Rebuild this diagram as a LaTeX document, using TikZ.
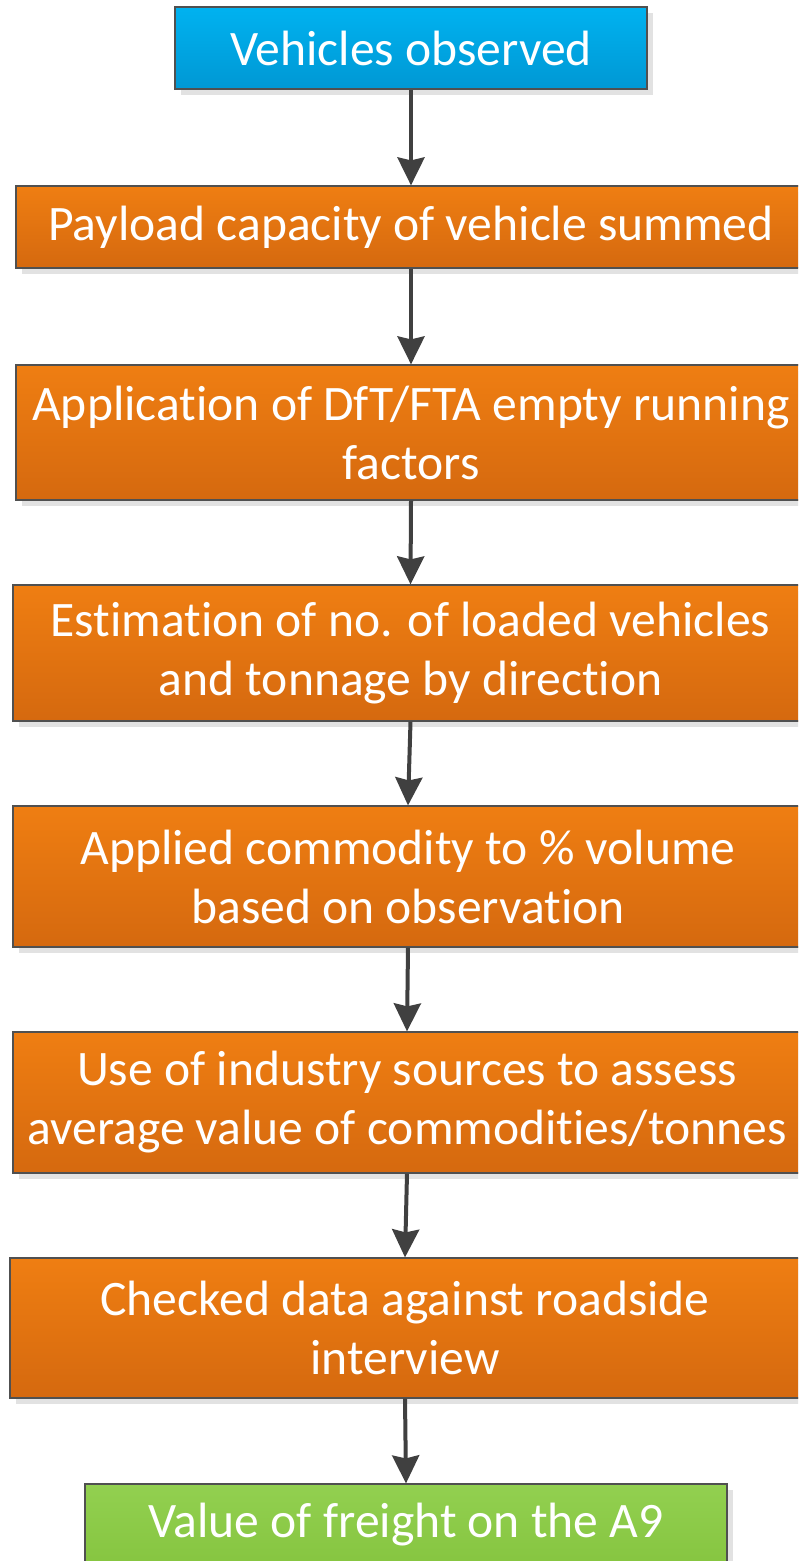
\documentclass[tikz,border=0pt]{standalone}
\usepackage{fontspec}
\setmainfont[RawFeature={-liga}]{Carlito}
\usetikzlibrary{arrows.meta,shadows}

\definecolor{blueTop}{RGB}{0,178,240}
\definecolor{blueBottom}{RGB}{0,152,212}
\definecolor{orangeTop}{RGB}{239,126,18}
\definecolor{orangeBottom}{RGB}{213,105,15}
\definecolor{greenTop}{RGB}{146,208,80}
\definecolor{greenBottom}{RGB}{134,197,64}
\definecolor{boxEdge}{RGB}{80,80,80}
\definecolor{shadowGray}{RGB}{226,226,226}
\definecolor{arrowGray}{RGB}{64,64,64}

\tikzset{
  stage/.style={draw=boxEdge, line width=0.6pt, inner sep=0pt, align=center,
    text=white, font=\fontsize{24.8pt}{29.5pt}\selectfont,
    drop shadow={shadow xshift=3pt, shadow yshift=-3pt, fill=shadowGray, opacity=1}},
  blueStage/.style={stage, top color=blueTop, bottom color=blueBottom},
  orangeStage/.style={stage, top color=orangeTop, bottom color=orangeBottom},
  greenStage/.style={stage, top color=greenTop, bottom color=greenBottom},
  flow/.style={draw=arrowGray, line width=2pt,
    -{Stealth[length=14pt, width=13.5pt, inset=1.5pt]}}
}

\begin{document}
\begin{tikzpicture}[x=0.5pt, y=-0.5pt]
  \path[use as bounding box] (0,0) rectangle (798,1561);
  \clip (0,0) rectangle (798,1561);

  \node[blueStage, minimum width=236pt, minimum height=41pt] (s1) at (411,48)
    {Vehicles observed};
  \node[orangeStage, minimum width=395pt, minimum height=41pt] (s2) at (411,227)
    {Payload capacity of vehicle summed};
  \node[orangeStage, minimum width=395pt, minimum height=67.5pt] (s3) at (411,432.5)
    {Application of DfT/FTA empty running\\factors};
  \node[orangeStage, minimum width=397.5pt, minimum height=68pt] (s4) at (410.5,653)
    {Estimation of no. of loaded vehicles\\and tonnage by direction};
  \node[orangeStage, minimum width=395pt, minimum height=70.5pt] (s5) at (408,876.5)
    {Applied commodity to \% volume\\based on observation};
  \node[orangeStage, minimum width=394pt, minimum height=70.5pt] (s6) at (407,1102.5)
    {Use of industry sources to assess\\average value of commodities/tonnes};
  \node[orangeStage, minimum width=395pt, minimum height=70pt] (s7) at (405,1328)
    {Checked data against roadside\\interview};
  \node[greenStage, minimum width=321pt, minimum height=41pt] (s8) at (406,1525)
    {Value of freight on the A9};

  \draw[flow] (s1.south) -- (s2.north);
  \draw[flow] (s2.south) -- (s3.north);
  \draw[flow] (s3.south) -- (s4.north);
  \draw[flow] (s4.south) -- (s5.north);
  \draw[flow] (s5.south) -- (s6.north);
  \draw[flow] (s6.south) -- (s7.north);
  \draw[flow] (s7.south) -- (s8.north);
\end{tikzpicture}
\end{document}
